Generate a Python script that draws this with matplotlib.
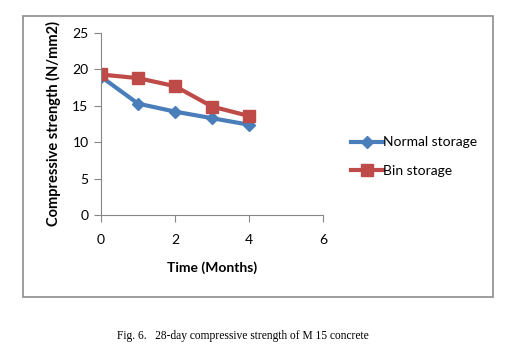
import matplotlib
matplotlib.use('Agg')
from matplotlib import pyplot as plt
from matplotlib.patches import Rectangle

# Data
months = [0, 1, 2, 3, 4]
normal_storage = [19.0, 15.3, 14.2, 13.3, 12.4]
bin_storage = [19.3, 18.8, 17.7, 14.9, 13.6]
x_ticks = [0, 2, 4, 6]
y_ticks = [0, 5, 10, 15, 20, 25]

plt.rcParams['font.family'] = ['Lato', 'DejaVu Sans']

fig = plt.figure(figsize=(5.3, 3.59), dpi=100)

# Gray chart frame
fig.patches.append(Rectangle((23 / 530, 1 - 297 / 359), 470 / 530, 281 / 359,
                             transform=fig.transFigure, fill=False,
                             edgecolor='#8c8c8c', linewidth=1.2))

ax = fig.add_axes([101 / 530, 1 - 215 / 359, 222 / 530, 182 / 359])
ax.plot(months, normal_storage, color='#4a7ebb', linewidth=3, marker='D',
        markersize=6.5, label='Normal storage')
ax.plot(months, bin_storage, color='#be4b48', linewidth=3, marker='s',
        markersize=8.5, label='Bin storage')

ax.set_xlim(0, 6)
ax.set_ylim(0, 25)
ax.set_xticks(x_ticks)
ax.set_yticks(y_ticks)
for side in ['top', 'right']:
    ax.spines[side].set_visible(False)
for side in ['left', 'bottom']:
    ax.spines[side].set_color('#868686')
ax.tick_params(axis='x', direction='out', length=5, pad=9, color='#868686',
               labelsize=10)
ax.tick_params(axis='y', direction='out', length=5, pad=4, color='#868686',
               labelsize=10)
ax.set_xlabel('Time (Months)', fontweight='bold', fontsize=10, labelpad=11)
ax.set_ylabel('Compressive strength (N/mm2)', fontweight='bold', fontsize=10.5,
              labelpad=8)

ax.legend(loc='center left', bbox_to_anchor=(1.07, 0.32), frameon=False,
          fontsize=10, handlelength=2.3, handletextpad=0.0, labelspacing=1.2)

fig.text(117 / 530, 1 - 336 / 359,
         'Fig. 6.   28-day compressive strength of M 15 concrete',
         family='Liberation Serif', fontsize=8.3, va='center')

fig.savefig('out.png', dpi=100)
